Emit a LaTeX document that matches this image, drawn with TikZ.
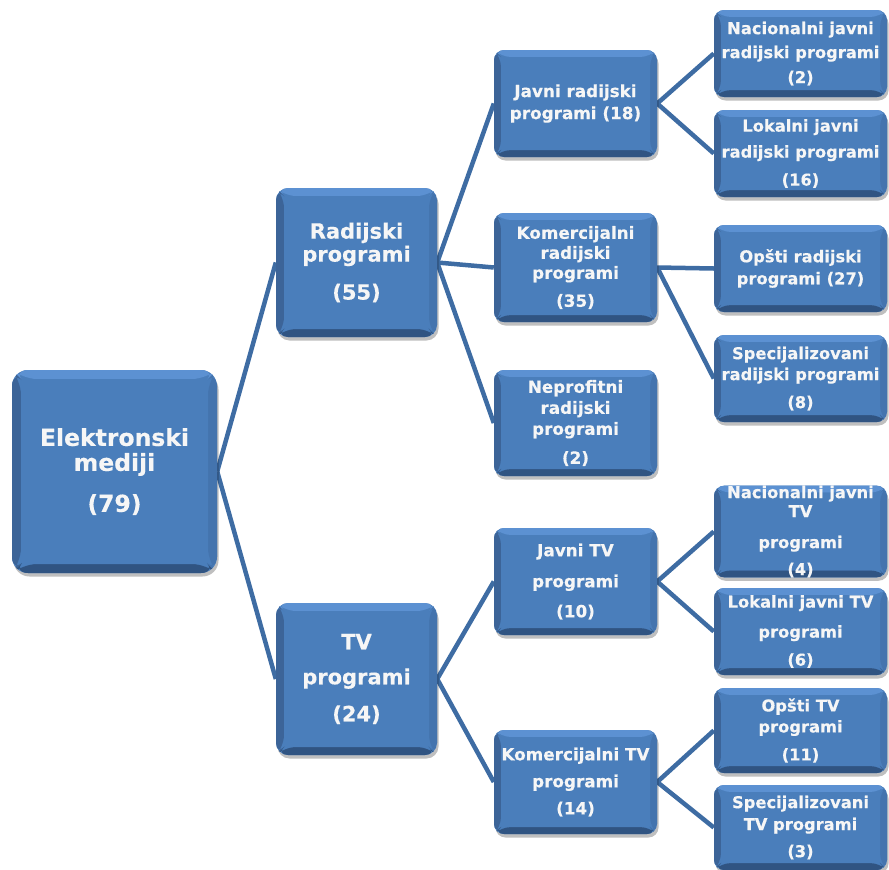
\documentclass[tikz,border=0pt]{standalone}
\usepackage{fontspec}
\setmainfont{DejaVu Sans}[BoldFeatures={FakeBold=0.3}]
\usetikzlibrary{calc,shadows,backgrounds}
\definecolor{bmid}{RGB}{74,126,187}
\definecolor{btop}{RGB}{92,145,210}
\definecolor{bleft}{RGB}{60,100,152}
\definecolor{bbot}{RGB}{48,84,130}
\definecolor{bright}{RGB}{68,116,174}
\definecolor{lnk}{RGB}{62,108,163}
\definecolor{txt}{RGB}{246,246,246}
\def\bvw{7pt}
\tikzset{
  bw/.code={\def\bvw{#1}},
  bx/.style={rounded corners=10pt, fill=bmid, text=txt, align=center, inner sep=0pt,
    drop shadow={shadow xshift=1.5pt,shadow yshift=-3.5pt,opacity=0.25,fill=black},
    path picture={
      \fill[btop] (path picture bounding box.north west) -- (path picture bounding box.north east)
        -- ([shift={(-\bvw,-\bvw)}]path picture bounding box.north east)
        -- ([shift={(\bvw,-\bvw)}]path picture bounding box.north west) -- cycle;
      \fill[bleft] (path picture bounding box.north west) -- ([shift={(\bvw,-\bvw)}]path picture bounding box.north west)
        -- ([shift={(\bvw,\bvw)}]path picture bounding box.south west)
        -- (path picture bounding box.south west) -- cycle;
      \fill[bbot] (path picture bounding box.south west) -- ([shift={(\bvw,\bvw)}]path picture bounding box.south west)
        -- ([shift={(-\bvw,\bvw)}]path picture bounding box.south east)
        -- (path picture bounding box.south east) -- cycle;
      \fill[bright] (path picture bounding box.north east) -- ([shift={(-\bvw,-\bvw)}]path picture bounding box.north east)
        -- ([shift={(-\bvw,\bvw)}]path picture bounding box.south east)
        -- (path picture bounding box.south east) -- cycle;
      \fill[bmid, rounded corners=2pt] ([shift={(\bvw,-\bvw)}]path picture bounding box.north west)
        rectangle ([shift={(-\bvw,\bvw)}]path picture bounding box.south east);
    }},
  lnkline/.style={draw=lnk, line width=4.5pt},
  fa/.style={font=\fontsize{23.5}{25}\bfseries\selectfont},
  fb/.style={font=\fontsize{21}{23}\bfseries\selectfont},
  fc/.style={font=\fontsize{16.8}{#1}\bfseries\selectfont},
  fd/.style={font=\fontsize{16.3}{#1}\bfseries\selectfont},
  midbox/.style={bx, minimum width=163pt, minimum height=#1},
  rbox/.style={bx, minimum width=173pt, minimum height=#1},
}
\begin{document}
\begin{tikzpicture}[x=1pt,y=-1pt]
\useasboundingbox (0,0) rectangle (889,870);
% level 0
\node[bx, bw=9pt, rounded corners=16pt, fa, minimum width=205pt, minimum height=203pt] (root) at (114.5,471.5) {Elektronski\\mediji\\[16pt](79)};
% level 1
\node[bx, bw=8pt, rounded corners=12pt, fb, minimum width=161pt, minimum height=149pt] (rad) at (356.5,262.5) {Radijski\\programi\\[15pt](55)};
\node[bx, bw=8pt, rounded corners=12pt, fb, minimum width=161pt, minimum height=152pt] (tv) at (356.5,679) {TV\\[12pt]programi\\[14pt](24)};
% level 2
\node[midbox=107pt, fc=22] (jr) at (575.5,103.5) {Javni radijski\\programi (18)};
\node[midbox=109pt, fc=20] (kr) at (575.5,267.5) {Komercijalni\\radijski\\programi\\[8pt](35)};
\node[midbox=106pt, fc=21] (nr) at (575.5,423) {Neprofitni\\radijski\\programi\\[8pt](2)};
\node[midbox=107pt, fc=21] (jt) at (575.5,581.5) {Javni TV\\[10pt]programi\\[9pt](10)};
\node[midbox=104pt, fc=27] (kt) at (575.5,782) {Komercijalni TV\\programi\\(14)};
% level 3
\node[rbox=87pt, fd=24] (njr) at (800.5,53.5) {Nacionalni javni\\radijski programi\\[1pt](2)};
\node[rbox=87pt, fd=26] (ljr) at (800.5,153.5) {Lokalni javni\\radijski programi\\[2pt](16)};
\node[rbox=87pt, fd=22] (opr) at (800.5,268.5) {Opšti radijski\\programi (27)};
\node[rbox=87pt, fd=21] (spr) at (800.5,378.5) {Specijalizovani\\radijski programi\\[7pt](8)};
\node[rbox=87pt, fd=19] (njt) at (800.5,531.5) {Nacionalni javni\\TV\\[12pt]programi\\[8pt](4)};
\node[rbox=87pt, fd=28] (ljt) at (800.5,631.5) {Lokalni javni TV\\[2pt]programi\\(6)};
\node[rbox=85pt, fd=21] (opt) at (800.5,730.5) {Opšti TV\\programi\\[7pt](11)};
\node[rbox=85pt, fd=22] (spt) at (800.5,827.5) {Specijalizovani\\TV programi\\[5pt](3)};
% connectors
\begin{scope}[on background layer]
\draw[lnkline] (root.east) -- (rad.west);
\draw[lnkline] (root.east) -- (tv.west);
\draw[lnkline] (rad.east) -- (jr.west);
\draw[lnkline] (rad.east) -- (kr.west);
\draw[lnkline] (rad.east) -- (nr.west);
\draw[lnkline] (tv.east) -- (jt.west);
\draw[lnkline] (tv.east) -- (kt.west);
\draw[lnkline] (jr.east) -- (njr.west);
\draw[lnkline] (jr.east) -- (ljr.west);
\draw[lnkline] (kr.east) -- (opr.west);
\draw[lnkline] (kr.east) -- (spr.west);
\draw[lnkline] (jt.east) -- (njt.west);
\draw[lnkline] (jt.east) -- (ljt.west);
\draw[lnkline] (kt.east) -- (opt.west);
\draw[lnkline] (kt.east) -- (spt.west);
\end{scope}
\end{tikzpicture}
\end{document}
